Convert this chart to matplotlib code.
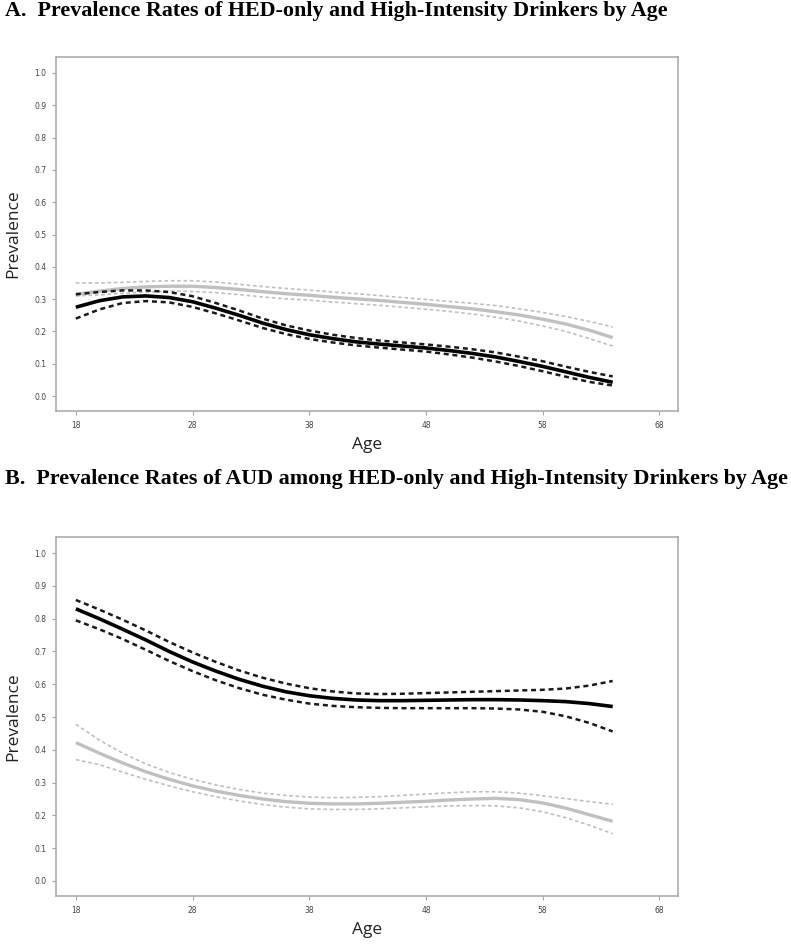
import matplotlib
matplotlib.use("Agg")
import matplotlib.pyplot as plt

age = [18, 20, 22, 24, 26, 28, 30, 32, 34, 36, 38, 40, 42, 44, 46, 48, 50, 52, 54, 56, 58, 60, 62, 64]

# panel A: prevalence of each drinker group
a_hi = [0.275, 0.295, 0.307, 0.310, 0.305, 0.292, 0.272, 0.250, 0.226, 0.206, 0.190, 0.178, 0.168, 0.161, 0.155, 0.149, 0.141, 0.132, 0.121, 0.107, 0.092, 0.075, 0.058, 0.043]
a_hi_up = [0.315, 0.322, 0.327, 0.327, 0.322, 0.309, 0.288, 0.265, 0.240, 0.219, 0.203, 0.190, 0.180, 0.172, 0.166, 0.160, 0.153, 0.145, 0.135, 0.122, 0.108, 0.091, 0.075, 0.061]
a_hi_lo = [0.240, 0.268, 0.288, 0.294, 0.290, 0.276, 0.256, 0.234, 0.211, 0.192, 0.177, 0.166, 0.157, 0.150, 0.144, 0.138, 0.129, 0.119, 0.107, 0.093, 0.077, 0.060, 0.044, 0.033]
a_hed = [0.315, 0.325, 0.333, 0.338, 0.340, 0.340, 0.336, 0.330, 0.323, 0.317, 0.312, 0.306, 0.301, 0.296, 0.290, 0.284, 0.277, 0.270, 0.261, 0.251, 0.238, 0.223, 0.204, 0.181]
a_hed_up = [0.350, 0.350, 0.352, 0.355, 0.357, 0.357, 0.353, 0.346, 0.339, 0.333, 0.328, 0.322, 0.317, 0.311, 0.305, 0.299, 0.293, 0.287, 0.280, 0.270, 0.259, 0.246, 0.231, 0.214]
a_hed_lo = [0.310, 0.313, 0.318, 0.322, 0.325, 0.324, 0.320, 0.314, 0.307, 0.301, 0.297, 0.291, 0.286, 0.281, 0.275, 0.269, 0.262, 0.254, 0.244, 0.232, 0.217, 0.200, 0.178, 0.155]

# panel B: prevalence of AUD within each group
b_hi = [0.830, 0.800, 0.768, 0.735, 0.700, 0.668, 0.640, 0.615, 0.594, 0.577, 0.565, 0.557, 0.552, 0.550, 0.550, 0.551, 0.552, 0.553, 0.553, 0.552, 0.550, 0.547, 0.541, 0.532]
b_hi_up = [0.857, 0.828, 0.797, 0.764, 0.729, 0.697, 0.668, 0.642, 0.620, 0.602, 0.588, 0.578, 0.572, 0.570, 0.571, 0.573, 0.575, 0.577, 0.579, 0.581, 0.583, 0.587, 0.596, 0.610]
b_hi_lo = [0.795, 0.768, 0.738, 0.705, 0.671, 0.640, 0.612, 0.588, 0.568, 0.553, 0.541, 0.534, 0.530, 0.528, 0.527, 0.527, 0.527, 0.527, 0.526, 0.523, 0.516, 0.502, 0.482, 0.456]
b_hed = [0.422, 0.390, 0.360, 0.333, 0.310, 0.290, 0.274, 0.261, 0.250, 0.242, 0.237, 0.235, 0.235, 0.237, 0.240, 0.243, 0.247, 0.250, 0.252, 0.248, 0.238, 0.222, 0.202, 0.182]
b_hed_up = [0.478, 0.430, 0.390, 0.357, 0.331, 0.310, 0.293, 0.279, 0.268, 0.261, 0.256, 0.254, 0.255, 0.257, 0.261, 0.265, 0.269, 0.272, 0.272, 0.268, 0.260, 0.251, 0.242, 0.234]
b_hed_lo = [0.370, 0.355, 0.332, 0.310, 0.290, 0.272, 0.257, 0.244, 0.233, 0.225, 0.220, 0.218, 0.218, 0.220, 0.223, 0.226, 0.229, 0.230, 0.229, 0.223, 0.211, 0.193, 0.170, 0.144]

xticks = [18, 28, 38, 48, 58, 68]
yticks = [0.0, 0.1, 0.2, 0.3, 0.4, 0.5, 0.6, 0.7, 0.8, 0.9, 1.0]

titles = ["A.  Prevalence Rates of HED-only and High-Intensity Drinkers by Age",
          "B.  Prevalence Rates of AUD among HED-only and High-Intensity Drinkers by Age"]

fig = plt.figure(figsize=(7.91, 9.44), dpi=100)
axA = fig.add_axes([0.0708, 0.5646, 0.7864, 0.3750])
axB = fig.add_axes([0.0708, 0.0508, 0.7864, 0.3803])

black = "#000000"
grey = "#c0c0c0"
dash = (0, (2.2, 1.6))

def draw(ax, hi, hi_up, hi_lo, hed, hed_up, hed_lo):
    ax.plot(age, hed, color=grey, lw=2.4, solid_capstyle="butt")
    ax.plot(age, hed_up, color=grey, lw=1.2, ls=dash)
    ax.plot(age, hed_lo, color=grey, lw=1.2, ls=dash)
    ax.plot(age, hi_up, color="#1a1a1a", lw=1.8, ls=(0, (2.0, 1.5)))
    ax.plot(age, hi_lo, color="#1a1a1a", lw=1.8, ls=(0, (2.0, 1.5)))
    ax.plot(age, hi, color=black, lw=2.6, solid_capstyle="butt")
    ax.set_xlim(16.3, 69.6)
    ax.set_ylim(-0.046, 1.049)
    ax.set_xticks(xticks)
    ax.set_xticklabels([str(t) for t in xticks])
    ax.set_yticks(yticks)
    ax.set_yticklabels(["%.1f" % t for t in yticks])
    for s in ax.spines.values():
        s.set_color("#a6a6a6")
        s.set_linewidth(1.1)
    ax.tick_params(length=3, width=0.8, color="#a6a6a6", labelsize=5.5,
                   labelcolor="#444444", pad=4)
    ax.set_xlabel("Age", fontsize=12.5, color="#222222", family="Open Sans", labelpad=5)
    ax.set_ylabel("Prevalence", fontsize=12.5, color="#222222", family="Open Sans", labelpad=9)

draw(axA, a_hi, a_hi_up, a_hi_lo, a_hed, a_hed_up, a_hed_lo)
draw(axB, b_hi, b_hi_up, b_hi_lo, b_hed, b_hed_up, b_hed_lo)

fig.text(0.006, 1 - 11 / 944, titles[0], ha="left", va="center",
         family="Liberation Serif", weight="bold", fontsize=15.8)
fig.text(0.006, 1 - 479 / 944, titles[1], ha="left", va="center",
         family="Liberation Serif", weight="bold", fontsize=15.8)

fig.savefig("out.png", dpi=100)
